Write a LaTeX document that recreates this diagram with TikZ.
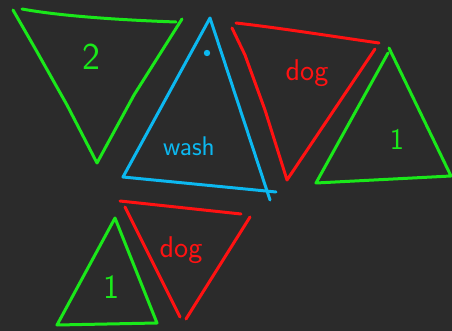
\documentclass[tikz,border=0pt]{standalone}
\usepackage{tikz}
\usetikzlibrary{calc}
\definecolor{board}{RGB}{43,43,43}
\definecolor{pgreen}{RGB}{26,232,26}
\definecolor{pred}{RGB}{255,18,18}
\definecolor{pblue}{RGB}{12,184,240}
\tikzset{every picture/.style={line width=3pt, line cap=round, line join=round}}
\tikzset{
    pen/.style={draw=#1},
    word/.style={text=#1, inner sep=0pt, font=\sffamily\fontsize{30}{30}\selectfont},
}

\begin{document}
\begin{tikzpicture}[x=1pt,y=-1pt]
    \fill[board] (0,0) rectangle (452,331);
    \useasboundingbox (0,0) rectangle (452,331);
    % green, upside down
    \coordinate (ga) at (13,10);
    \coordinate (gb) at (97,163);
    \coordinate (gc) at (182,19);
    \draw[pen=pgreen] (22,9) .. controls (60,16) and (120,20) .. (176,22);
    \draw[pen=pgreen] (ga) -- (36,50) -- (67,105) -- (gb) -- (134,95) -- (gc);
    \node[word=pgreen, font=\sffamily\fontsize{38}{38}\selectfont] (two) at (91,57) {2};
    % blue
    \coordinate (ba) at (210,18);
    \coordinate (bb) at (123,177);
    \coordinate (bc) at (270,200);
    \draw[pen=pblue] (bc) -- (ba) -- (bb) -- (276,192);
    \fill[pblue] (207,53) circle (3.2);
    \node[word=pblue, font=\sffamily\fontsize{27}{27}\selectfont] (wash) at (189,146) {wash};
    % red, top
    \coordinate (ra) at (232,28);
    \coordinate (rb) at (287,180);
    \coordinate (rc) at (375,49);
    \draw[pen=pred] (236,23) .. controls (280,28) and (330,36) .. (379,43);
    \draw[pen=pred] (ra) -- (245,55) -- (265,110) -- (rb) -- (rc);
    \node[word=pred] (dog1) at (307,73) {dog};
    % green, right
    \coordinate (ka) at (389,48);
    \coordinate (kb) at (316,183);
    \coordinate (kc) at (451,176);
    \draw[pen=pgreen] (ka) -- (kc) -- (kb) -- (388,53);
    \node[word=pgreen, font=\sffamily\fontsize{30}{30}\selectfont] (one1) at (397,139) {1};
    % green, bottom
    \coordinate (la) at (115,218);
    \coordinate (lb) at (57,325);
    \coordinate (lc) at (157,323);
    \draw[pen=pgreen] (la) -- (155,318) -- (lc) -- (lb) -- (la);
    \node[word=pgreen, font=\sffamily\fontsize{34}{34}\selectfont] (one2) at (111,287) {1};
    % red, bottom
    \coordinate (sa) at (125,207);
    \coordinate (sb) at (180,317);
    \coordinate (sc) at (250,217);
    \coordinate (sd) at (186,319);
    \draw[pen=pred] (120,201) -- (241,214);
    \draw[pen=pred] (sa) -- (sb);
    \draw[pen=pred] (sc) -- (sd);
    \node[word=pred] (dog2) at (181,250) {dog};
\end{tikzpicture}
\end{document}
